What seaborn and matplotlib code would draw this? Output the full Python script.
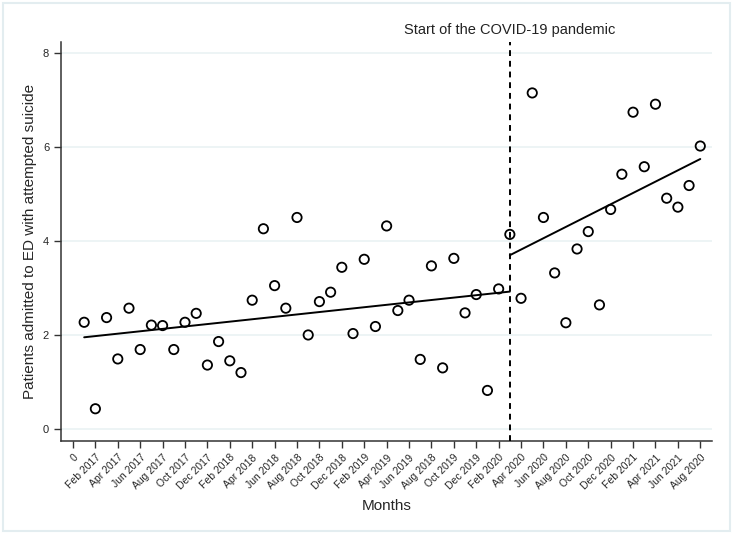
import numpy as np
import pandas as pd
import matplotlib
matplotlib.use("Agg")
import matplotlib.pyplot as plt
from matplotlib.patches import Rectangle
import seaborn as sns

# ── Data ────────────────────────────────────────────────────────────────────
months = np.arange(1, 57)
patients = [2.28, 0.44, 2.38, 1.50, 2.58, 1.70, 2.22, 2.21, 1.70, 2.28,
            2.47, 1.37, 1.87, 1.46, 1.21, 2.75, 4.27, 3.06, 2.58, 4.51,
            2.01, 2.72, 2.92, 3.45, 2.04, 3.62, 2.19, 4.33, 2.53, 2.75,
            1.49, 3.48, 1.31, 3.64, 2.48, 2.87, 0.83, 2.99, 4.15, 2.79,
            7.16, 4.51, 3.33, 2.27, 3.84, 4.21, 2.65, 4.68, 5.43, 6.75,
            5.59, 6.92, 4.92, 4.73, 5.19, 6.03]
covid_start = 39

tick_pos = np.arange(0, 57, 2)
tick_labels = ["0", "Feb 2017", "Apr 2017", "Jun 2017", "Aug 2017", "Oct 2017",
               "Dec 2017", "Feb 2018", "Apr 2018", "Jun 2018", "Aug 2018",
               "Oct 2018", "Dec 2018", "Feb 2019", "Apr 2019", "Jun 2019",
               "Aug 2018", "Oct 2019", "Dec 2019", "Feb 2020", "Apr 2020",
               "Jun 2020", "Aug 2020", "Oct 2020", "Dec 2020", "Feb 2021",
               "Apr 2021", "Jun 2021", "Aug 2020"]

df = pd.DataFrame({"month": months, "patients": patients})
pre = df[df["month"] < covid_start]
post = df[df["month"] >= covid_start]

# ── Plot ────────────────────────────────────────────────────────────────────
sns.set_style("white")
plt.rcParams["font.family"] = ["Liberation Sans", "DejaVu Sans"]

fig = plt.figure(figsize=(7.33, 5.34), dpi=100)
ax = fig.add_axes([0.0832, 0.1747, 0.8882, 0.7472])

# outer light frame
fig.patches.append(Rectangle((0.004, 0.005), 0.992, 0.99, transform=fig.transFigure,
                             fill=False, edgecolor="#e3edf0", linewidth=1.5))

ax.yaxis.grid(True, color="#eaf2f4", linewidth=1.2)
ax.set_axisbelow(True)

sns.scatterplot(data=df, x="month", y="patients", ax=ax, s=45,
                facecolor="none", edgecolor="black", linewidth=1.3, zorder=3)

# piecewise linear fits (interrupted time series)
b_pre = np.polyfit(pre["month"], pre["patients"], 1)
x_pre = np.array([pre["month"].min(), covid_start])
sns.lineplot(x=x_pre, y=np.polyval(b_pre, x_pre), ax=ax, color="black", linewidth=1.4)

b_post = np.polyfit(post["month"], post["patients"], 1)
x_post = np.array([covid_start, post["month"].max()])
sns.lineplot(x=x_post, y=np.polyval(b_post, x_post), ax=ax, color="black", linewidth=1.4)

ax.axvline(covid_start, color="black", linestyle=(0, (3, 2.5)), linewidth=1.4, zorder=4)
ax.text(covid_start, 8.35, "Start of the COVID-19 pandemic", ha="center",
        va="bottom", fontsize=10.5, color="#222222")

ax.set_xlim(-1.07, 57.05)
ax.set_ylim(-0.24, 8.25)
ax.set_yticks([0, 2, 4, 6, 8])
ax.set_xticks(tick_pos)
ax.set_xticklabels(tick_labels, rotation=45, ha="right", rotation_mode="anchor",
                   fontsize=7.5)
ax.tick_params(axis="y", labelsize=8)
ax.tick_params(axis="both", direction="out", length=5, width=1, color="#333333",
               bottom=True, left=True)

for side in ["top", "right"]:
    ax.spines[side].set_visible(False)
for side in ["left", "bottom"]:
    ax.spines[side].set_color("#333333")
    ax.spines[side].set_linewidth(1.1)

ax.set_xlabel("Months", fontsize=11)
ax.set_ylabel("Patients admitted to ED with attempted suicide", fontsize=11)
ax.xaxis.set_label_coords(0.5, -0.145)

fig.savefig("out.png", dpi=100)
